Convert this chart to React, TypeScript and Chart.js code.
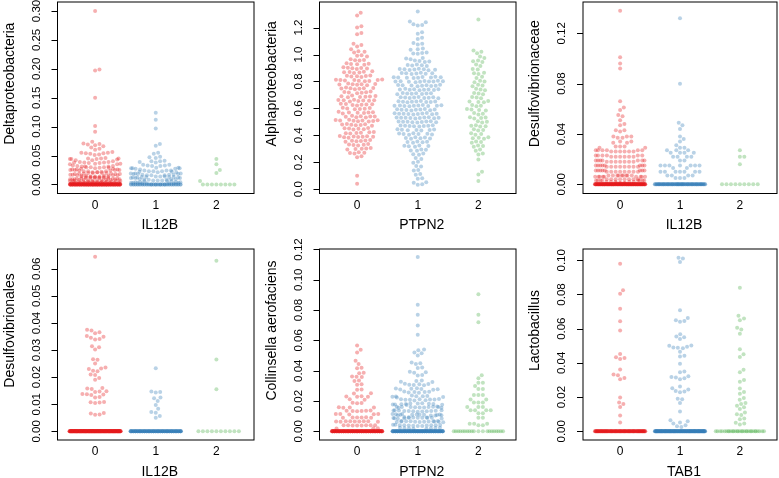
import React, { useEffect, useRef } from "react";
import { Chart, registerables } from "chart.js";

Chart.register(...registerables);

const CANVAS_W = 779;
const CANVAS_H = 478;
const FONT = '"Liberation Sans", Arial, Helvetica, sans-serif';

const groupLabels = ["0", "1", "2"];
const groupColors = ["rgba(228,26,28,0.35)", "rgba(55,126,184,0.35)", "rgba(77,175,74,0.35)"];

// ---------- Panel 1: Deltaproteobacteria by IL12B ----------
const deltaG0 = [0.300, 0.199, 0.197, 0.150, 0.101, 0.091,
  0.074, 0.071, 0.070, 0.069, 0.068, 0.066, 0.064, 0.062, 0.060,
  0.056, 0.055, 0.055, 0.054, 0.054, 0.053, 0.052, 0.051,
  0.046, 0.045, 0.045, 0.045, 0.044, 0.044, 0.044, 0.043, 0.042, 0.042,
  0.040, 0.039, 0.039, 0.038, 0.038, 0.038, 0.037, 0.037, 0.036, 0.036, 0.035, 0.035,
  0.033, 0.032, 0.032, 0.031, 0.031, 0.031, 0.030, 0.030, 0.030, 0.029, 0.029, 0.028,
  0.027, 0.027, 0.026, 0.026, 0.026, 0.025, 0.025, 0.025, 0.025, 0.024, 0.024, 0.023, 0.023, 0.023,
  0.022, 0.021, 0.021, 0.021, 0.020, 0.020, 0.020, 0.020, 0.019, 0.019, 0.019, 0.018, 0.018, 0.018, 0.017, 0.017,
  0.016, 0.016, 0.016, 0.015, 0.015, 0.015, 0.015, 0.014, 0.014, 0.014, 0.014, 0.013, 0.013, 0.013, 0.013, 0.012, 0.012, 0.012,
  0.011, 0.011, 0.011, 0.011, 0.010, 0.010, 0.010, 0.010, 0.010, 0.009, 0.009, 0.009, 0.009, 0.009, 0.008, 0.008, 0.008, 0.008, 0.007, 0.007, 0.007, 0.007,
  0.006, 0.006, 0.006, 0.006, 0.006, 0.005, 0.005, 0.005, 0.005, 0.005, 0.005, 0.005, 0.004, 0.004, 0.004, 0.004, 0.004, 0.004, 0.003, 0.003, 0.003, 0.003, 0.003, 0.003,
  0.002, 0.002, 0.002, 0.002, 0.002, 0.002, 0.002, 0.002, 0.002, 0.002, 0.002, 0.002,
  0.001, 0.001, 0.001, 0.001, 0.001, 0.001, 0.001, 0.001, 0.001, 0.001, 0.001, 0.001, 0.001, 0.001, 0.001, 0.001, 0.001, 0.001];
const deltaG0Zeros = 120;
const deltaG1 = [0.124, 0.112, 0.097, 0.070, 0.067, 0.055, 0.053, 0.048, 0.047, 0.046,
  0.041, 0.040, 0.040, 0.039, 0.038, 0.034, 0.034, 0.033, 0.033, 0.032, 0.032,
  0.029, 0.029, 0.028, 0.028, 0.028, 0.027, 0.027, 0.026,
  0.024, 0.024, 0.024, 0.023, 0.023, 0.023, 0.022, 0.022, 0.021, 0.021,
  0.019, 0.019, 0.019, 0.018, 0.018, 0.018, 0.017, 0.017, 0.017, 0.016, 0.016, 0.016,
  0.014, 0.014, 0.014, 0.013, 0.013, 0.013, 0.013, 0.012, 0.012, 0.012, 0.011, 0.011, 0.011,
  0.009, 0.009, 0.009, 0.008, 0.008, 0.008, 0.007, 0.007, 0.007, 0.006, 0.006, 0.006,
  0.004, 0.004, 0.004, 0.004, 0.003, 0.003, 0.003, 0.003, 0.002, 0.002, 0.002, 0.002];
const deltaG1Zeros = 50;
const deltaG2 = [0.044, 0.035, 0.025, 0.020, 0.006];
const deltaG2Zeros = 8;
const deltaTicks = [0, 0.05, 0.1, 0.15, 0.2, 0.25, 0.3];
const deltaTickLabels = ["0.00", "0.05", "0.10", "0.15", "0.20", "0.25", "0.30"];

// ---------- Panel 2: Alphaproteobacteria by PTPN2 ----------
const alphaG0 = [1.31, 1.29, 1.21, 1.20, 1.16, 1.15, 1.08, 1.07, 1.06, 1.04,
  1.025, 1.02, 1.015, 0.995, 0.99, 0.985, 0.965, 0.96, 0.958, 0.955,
  0.935, 0.932, 0.93, 0.927, 0.924, 0.905, 0.902, 0.90, 0.898, 0.896, 0.893,
  0.875, 0.872, 0.87, 0.868, 0.866, 0.863, 0.845, 0.842, 0.84, 0.838, 0.836, 0.833,
  0.815, 0.813, 0.811, 0.81, 0.81, 0.808, 0.806, 0.804, 0.802,
  0.785, 0.782, 0.78, 0.779, 0.777, 0.775, 0.772,
  0.755, 0.752, 0.75, 0.749, 0.747, 0.745, 0.742,
  0.725, 0.722, 0.72, 0.718, 0.716, 0.713,
  0.695, 0.692, 0.69, 0.689, 0.687, 0.685, 0.682,
  0.665, 0.663, 0.661, 0.66, 0.658, 0.656, 0.654, 0.652,
  0.635, 0.632, 0.63, 0.629, 0.627, 0.625, 0.622,
  0.605, 0.602, 0.60, 0.598, 0.596, 0.593,
  0.575, 0.572, 0.57, 0.569, 0.567, 0.565, 0.562,
  0.545, 0.542, 0.54, 0.539, 0.537, 0.535, 0.532,
  0.515, 0.513, 0.511, 0.51, 0.51, 0.508, 0.506, 0.504, 0.502,
  0.485, 0.482, 0.48, 0.479, 0.477, 0.475, 0.472,
  0.455, 0.452, 0.45, 0.448, 0.446, 0.443,
  0.425, 0.422, 0.42, 0.418, 0.416, 0.413,
  0.395, 0.393, 0.391, 0.39, 0.389, 0.387, 0.385, 0.382,
  0.365, 0.362, 0.36, 0.358, 0.356, 0.353,
  0.335, 0.332, 0.33, 0.328, 0.325,
  0.305, 0.302, 0.30, 0.298, 0.295,
  0.275, 0.271, 0.268, 0.265, 0.245, 0.238, 0.10, 0.04];
const alphaG1 = [1.32, 1.245, 1.24, 1.225, 1.22, 1.215, 1.165, 1.155, 1.125, 1.115,
  1.085, 1.08, 1.075, 1.045, 1.04, 1.035, 1.015, 1.012, 1.008, 1.005,
  0.975, 0.97, 0.965, 0.955, 0.952, 0.948, 0.945,
  0.925, 0.922, 0.92, 0.918, 0.915,
  0.895, 0.893, 0.891, 0.89, 0.889, 0.887, 0.885, 0.883,
  0.865, 0.863, 0.861, 0.86, 0.859, 0.857, 0.855,
  0.835, 0.833, 0.832, 0.831, 0.83, 0.829, 0.828, 0.827, 0.825,
  0.805, 0.803, 0.802, 0.801, 0.80, 0.80, 0.799, 0.798, 0.797, 0.795,
  0.775, 0.773, 0.772, 0.771, 0.77, 0.769, 0.768, 0.767, 0.765,
  0.745, 0.743, 0.742, 0.741, 0.74, 0.739, 0.738, 0.737, 0.735,
  0.715, 0.713, 0.712, 0.711, 0.71, 0.709, 0.707, 0.705,
  0.685, 0.683, 0.682, 0.681, 0.68, 0.679, 0.678, 0.677, 0.675,
  0.655, 0.653, 0.652, 0.651, 0.65, 0.649, 0.648, 0.647, 0.645,
  0.625, 0.623, 0.622, 0.621, 0.62, 0.62, 0.619, 0.618, 0.617, 0.615,
  0.595, 0.593, 0.592, 0.591, 0.59, 0.589, 0.588, 0.587, 0.585,
  0.565, 0.563, 0.562, 0.561, 0.56, 0.56, 0.559, 0.558, 0.557, 0.555,
  0.535, 0.533, 0.532, 0.531, 0.53, 0.53, 0.529, 0.528, 0.527, 0.525,
  0.505, 0.503, 0.502, 0.501, 0.50, 0.499, 0.498, 0.497, 0.495,
  0.475, 0.473, 0.472, 0.471, 0.47, 0.469, 0.467, 0.465,
  0.445, 0.443, 0.441, 0.44, 0.439, 0.437, 0.435,
  0.415, 0.413, 0.411, 0.41, 0.409, 0.407, 0.405,
  0.385, 0.383, 0.381, 0.379, 0.377, 0.375,
  0.355, 0.352, 0.35, 0.348, 0.345,
  0.325, 0.322, 0.32, 0.318, 0.315,
  0.295, 0.292, 0.288, 0.285, 0.265, 0.26, 0.255,
  0.232, 0.225, 0.203, 0.197,
  0.172, 0.168, 0.142, 0.138, 0.112, 0.108, 0.082, 0.078, 0.052, 0.048, 0.037, 0.033];
const alphaG2 = [1.26, 1.03, 1.02, 1.01, 0.985, 0.975, 0.955, 0.95, 0.945,
  0.925, 0.915, 0.892, 0.888, 0.865, 0.86, 0.855, 0.835, 0.825,
  0.805, 0.80, 0.795, 0.775, 0.77, 0.765, 0.745, 0.74, 0.735, 0.715, 0.71, 0.705,
  0.685, 0.68, 0.675, 0.655, 0.652, 0.648, 0.645, 0.625, 0.62, 0.615,
  0.595, 0.592, 0.588, 0.585, 0.565, 0.56, 0.555, 0.535, 0.532, 0.528, 0.525,
  0.505, 0.50, 0.495, 0.475, 0.472, 0.468, 0.465, 0.445, 0.44, 0.435,
  0.415, 0.41, 0.405, 0.385, 0.382, 0.378, 0.375, 0.355, 0.35, 0.345,
  0.325, 0.32, 0.315, 0.295, 0.285, 0.265, 0.258, 0.22, 0.13, 0.11, 0.06];
const alphaTicks = [0, 0.2, 0.4, 0.6, 0.8, 1.0, 1.2];
const alphaTickLabels = ["0.0", "0.2", "0.4", "0.6", "0.8", "1.0", "1.2"];

// ---------- Panel 3: Desulfovibrionaceae by IL12B ----------
const ceaeG0 = [0.138, 0.101, 0.096, 0.092, 0.066, 0.061, 0.059, 0.055, 0.054, 0.051, 0.048, 0.047,
  0.043, 0.043, 0.042, 0.038, 0.038, 0.038, 0.037, 0.037, 0.034, 0.034, 0.033, 0.033,
  0.030, 0.030, 0.030, 0.029, 0.029,
  0.027, 0.027, 0.027, 0.027, 0.027, 0.027, 0.026, 0.026, 0.026, 0.026, 0.026, 0.026,
  0.023, 0.023, 0.023, 0.023, 0.023, 0.023, 0.022, 0.022, 0.022, 0.022, 0.022, 0.022,
  0.019, 0.019, 0.019, 0.019, 0.019, 0.019, 0.019, 0.018, 0.018, 0.018, 0.018, 0.018, 0.018, 0.018,
  0.015, 0.015, 0.015, 0.015, 0.015, 0.015, 0.015, 0.015, 0.014, 0.014, 0.014, 0.014, 0.014, 0.014, 0.014, 0.014,
  0.011, 0.011, 0.011, 0.011, 0.011, 0.011, 0.011, 0.011, 0.010, 0.010, 0.010, 0.010, 0.010, 0.010, 0.010, 0.010,
  0.007, 0.007, 0.007, 0.007, 0.007, 0.007, 0.007, 0.007, 0.007, 0.006, 0.006, 0.006, 0.006, 0.006, 0.006, 0.006, 0.006, 0.006,
  0.004, 0.004, 0.004, 0.004, 0.004, 0.004, 0.004, 0.004, 0.003, 0.003, 0.003, 0.003, 0.003, 0.003, 0.003, 0.003,
  0.002, 0.002, 0.002, 0.002, 0.002, 0.001, 0.001, 0.001, 0.001, 0.001];
const ceaeG0Zeros = 157;
const ceaeG1 = [0.132, 0.080, 0.049, 0.047, 0.044, 0.038, 0.036, 0.034, 0.031, 0.029, 0.029,
  0.027, 0.027, 0.027, 0.025, 0.025, 0.025, 0.025, 0.022, 0.022, 0.022, 0.022, 0.019, 0.019,
  0.015, 0.015, 0.015, 0.015, 0.015, 0.015, 0.015, 0.013, 0.013,
  0.010, 0.010, 0.010, 0.010, 0.010, 0.010, 0.010, 0.007, 0.007, 0.007, 0.007, 0.005, 0.005, 0.005];
const ceaeG1Zeros = 93;
const ceaeG2 = [0.027, 0.022, 0.022, 0.016];
const ceaeG2Zeros = 9;
const ceaeTicks = [0, 0.04, 0.08, 0.12];
const ceaeTickLabels = ["0.00", "0.04", "0.08", "0.12"];

// ---------- Panel 4: Desulfovibrionales by IL12B ----------
const lesG0 = [0.0644, 0.0375, 0.0372, 0.0366, 0.0362, 0.0352, 0.0349, 0.0345, 0.0341, 0.0339,
  0.0314, 0.0310, 0.0302, 0.0266, 0.0264, 0.0250, 0.0236, 0.0232, 0.0230, 0.0224, 0.0222,
  0.0210, 0.0208, 0.0197, 0.0190, 0.0160, 0.0158, 0.0156, 0.0148, 0.0147, 0.0145,
  0.0138, 0.0137, 0.0136, 0.0134, 0.0127, 0.0125, 0.0108, 0.0107, 0.0106, 0.0105,
  0.0068, 0.0066, 0.0062, 0.0061];
const lesG0Zeros = 255;
const lesG1 = [0.0233, 0.0147, 0.0145, 0.0143, 0.0125, 0.0122, 0.0112, 0.0097, 0.0083, 0.0071, 0.0069, 0.0057, 0.0050];
const lesG1Zeros = 127;
const lesG2 = [0.063, 0.0265, 0.0155];
const lesG2Zeros = 10;
const lesTicks = [0, 0.01, 0.02, 0.03, 0.04, 0.05, 0.06];
const lesTickLabels = ["0.00", "0.01", "0.02", "0.03", "0.04", "0.05", "0.06"];

// ---------- Panel 5: Collinsella aerofaciens by PTPN2 ----------
const colG0 = [0.0567, 0.0538, 0.052, 0.0466, 0.0444, 0.0420, 0.0416, 0.0386, 0.0384,
  0.0362, 0.0360, 0.0358, 0.0335, 0.0332, 0.0310, 0.0308, 0.0276, 0.0274, 0.0251, 0.0249,
  0.0232, 0.0230, 0.0229, 0.0228, 0.0211, 0.0209, 0.0188, 0.0187, 0.0185,
  0.0159, 0.0158, 0.0157, 0.0156, 0.0137, 0.0136, 0.0136, 0.0135, 0.0134, 0.0133,
  0.0115, 0.0114, 0.0114, 0.0113, 0.0112, 0.0093, 0.0092, 0.0092, 0.0091, 0.0090, 0.0089,
  0.0067, 0.0066, 0.0066, 0.0066, 0.0065, 0.0065, 0.0065, 0.0064, 0.0063,
  0.0041, 0.0041, 0.0040, 0.0040, 0.0040, 0.0039, 0.0039, 0.0039, 0.0021, 0.0020, 0.0019];
const colG0Zeros = 151;
const colG1 = [0.115, 0.0835, 0.077, 0.0699, 0.0637, 0.054, 0.0535, 0.052, 0.0515, 0.050,
  0.0455, 0.045, 0.0445, 0.0422, 0.0418, 0.0394, 0.039, 0.0386, 0.0372, 0.0368,
  0.0335, 0.0332, 0.0328, 0.0325, 0.0314, 0.0312, 0.031, 0.0308, 0.0306, 0.0304,
  0.0285, 0.0283, 0.0281, 0.028, 0.0278, 0.0276, 0.0274, 0.0263, 0.0261, 0.026, 0.0259, 0.0257, 0.0255,
  0.0236, 0.0234, 0.0232, 0.0231, 0.023, 0.0228, 0.0226, 0.0224,
  0.0214, 0.0212, 0.0211, 0.021, 0.021, 0.0209, 0.0208, 0.0206, 0.0204,
  0.0186, 0.0184, 0.0183, 0.0182, 0.0181, 0.018, 0.0179, 0.0178, 0.0177, 0.0176, 0.0174,
  0.0164, 0.0163, 0.0162, 0.0161, 0.016, 0.016, 0.016, 0.0159, 0.0158, 0.0157, 0.0156, 0.0155,
  0.014, 0.0139, 0.0138, 0.0137, 0.0136, 0.0135, 0.0135, 0.0134, 0.0133, 0.0132, 0.0131, 0.013,
  0.0115, 0.0114, 0.0113, 0.0112, 0.0111, 0.011, 0.011, 0.011, 0.0109, 0.0108, 0.0107, 0.0106, 0.0105, 0.0104,
  0.0094, 0.0093, 0.0092, 0.0091, 0.009, 0.009, 0.009, 0.009, 0.0089, 0.0088, 0.0087, 0.0086, 0.0085, 0.0084,
  0.0069, 0.0068, 0.0067, 0.0066, 0.0066, 0.0065, 0.0065, 0.0065, 0.0064, 0.0064, 0.0063, 0.0062, 0.0061, 0.006,
  0.0044, 0.0043, 0.0042, 0.0041, 0.004, 0.004, 0.004, 0.0039, 0.0038, 0.0037, 0.0036, 0.0035,
  0.0024, 0.0023, 0.0022, 0.0021, 0.002, 0.0019, 0.0018, 0.0017];
const colG1Zeros = 140;
const colG2 = [0.0905, 0.077, 0.072, 0.037, 0.035, 0.032, 0.032, 0.030, 0.028, 0.028,
  0.024, 0.024, 0.024, 0.021, 0.021, 0.019, 0.019, 0.019, 0.016, 0.016, 0.016,
  0.014, 0.014, 0.014, 0.014, 0.012, 0.012, 0.009, 0.009, 0.005, 0.005, 0.005, 0.004, 0.004];
const colG2Zeros = 20;
const colTicks = [0, 0.02, 0.04, 0.06, 0.08, 0.1, 0.12];
const colTickLabels = ["0.00", "0.02", "0.04", "0.06", "0.08", "0.10", "0.12"];

// ---------- Panel 6: Lactobacillus by TAB1 ----------
const lacG0 = [0.098, 0.0825, 0.0805, 0.0717, 0.0643, 0.059, 0.0452, 0.0433, 0.0428, 0.0423,
  0.0362, 0.0332, 0.0328, 0.0312, 0.0305, 0.0197, 0.0168, 0.0160, 0.0142, 0.0093, 0.0052];
const lacG0Zeros = 130;
const lacG1 = [0.1015, 0.1010, 0.0990, 0.0708, 0.0662, 0.0650, 0.0645, 0.0640, 0.0568, 0.0555,
  0.0550, 0.0540, 0.0502, 0.0500, 0.0495, 0.0490, 0.0488, 0.0485, 0.0465, 0.0442, 0.0438,
  0.0395, 0.0350, 0.0345, 0.0322, 0.0318, 0.0315, 0.0310, 0.0305, 0.0262, 0.0252, 0.0245,
  0.0235, 0.0232, 0.0228, 0.0190, 0.0188, 0.0165, 0.0115, 0.0065, 0.0058, 0.0052,
  0.0045, 0.0035, 0.0030, 0.0025];
const lacG1Zeros = 180;
const lacG2 = [0.084, 0.0675, 0.066, 0.065, 0.0605, 0.0595, 0.057, 0.048, 0.045, 0.0435,
  0.036, 0.0345, 0.030, 0.029, 0.025, 0.023, 0.022, 0.0195, 0.0185, 0.0165, 0.016, 0.015,
  0.014, 0.013, 0.011, 0.010, 0.0095, 0.0075, 0.007, 0.005, 0.0045, 0.004];
const lacG2Zeros = 30;
const lacTicks = [0, 0.02, 0.04, 0.06, 0.08, 0.1];
const lacTickLabels = ["0.00", "0.02", "0.04", "0.06", "0.08", "0.10"];

// ---------- helpers ----------
function withZeros(vals: number[], zeros: number): number[] {
  const out = vals.slice();
  for (let i = 0; i < zeros; i++) out.push(0);
  return out;
}

type PanelDef = {
  yTitle: string;
  xTitle: string;
  groups: number[][];
  yMin: number;
  yMax: number;
  ticks: number[];
  tickLabels: string[];
  box: [number, number, number, number];
};

const X_MIN = -0.62;
const X_MAX = 2.62;
const DOT = 4.5;

const panels: PanelDef[] = [
  { yTitle: "Deltaproteobacteria", xTitle: "IL12B",
    groups: [withZeros(deltaG0, deltaG0Zeros), withZeros(deltaG1, deltaG1Zeros), withZeros(deltaG2, deltaG2Zeros)],
    yMin: -0.0156, yMax: 0.3156, ticks: deltaTicks, tickLabels: deltaTickLabels, box: [57.5, 2, 254, 193.5] },
  { yTitle: "Alphaproteobacteria", xTitle: "PTPN2",
    groups: [alphaG0, alphaG1, alphaG2],
    yMin: -0.032, yMax: 1.39, ticks: alphaTicks, tickLabels: alphaTickLabels, box: [319.5, 2, 516, 193.5] },
  { yTitle: "Desulfovibrionaceae", xTitle: "IL12B",
    groups: [withZeros(ceaeG0, ceaeG0Zeros), withZeros(ceaeG1, ceaeG1Zeros), withZeros(ceaeG2, ceaeG2Zeros)],
    yMin: -0.0073, yMax: 0.1449, ticks: ceaeTicks, tickLabels: ceaeTickLabels, box: [583, 2, 778.5, 193.5] },
  { yTitle: "Desulfovibrionales", xTitle: "IL12B",
    groups: [withZeros(lesG0, lesG0Zeros), withZeros(lesG1, lesG1Zeros), withZeros(lesG2, lesG2Zeros)],
    yMin: -0.0032, yMax: 0.0673, ticks: lesTicks, tickLabels: lesTickLabels, box: [57.5, 249, 254, 440] },
  { yTitle: "Collinsella aerofaciens", xTitle: "PTPN2",
    groups: [withZeros(colG0, colG0Zeros), withZeros(colG1, colG1Zeros), withZeros(colG2, colG2Zeros)],
    yMin: -0.0057, yMax: 0.1203, ticks: colTicks, tickLabels: colTickLabels, box: [319.5, 249, 516, 440] },
  { yTitle: "Lactobacillus", xTitle: "TAB1",
    groups: [withZeros(lacG0, lacG0Zeros), withZeros(lacG1, lacG1Zeros), withZeros(lacG2, lacG2Zeros)],
    yMin: -0.0051, yMax: 0.1066, ticks: lacTicks, tickLabels: lacTickLabels, box: [583, 249, 778.5, 440] },
];

// beeswarm "swarm" layout (ascending priority), offsets in pixels
function swarmOffsets(yPx: number[], d: number): number[] {
  const order = yPx.map((_, i) => i).sort((a, b) => yPx[a] - yPx[b]);
  const px: number[] = [];
  const py: number[] = [];
  const res: number[] = new Array(yPx.length).fill(0);
  const d2 = d * d;
  for (const i of order) {
    const y = yPx[i];
    const near: number[] = [];
    const cands: number[] = [0];
    for (let j = 0; j < py.length; j++) {
      const dy = y - py[j];
      if (Math.abs(dy) < d) {
        near.push(j);
        const dx = Math.sqrt(d2 - dy * dy);
        cands.push(px[j] + dx, px[j] - dx);
      }
    }
    cands.sort((a, b) => Math.abs(a) - Math.abs(b));
    let best = 0;
    for (const c of cands) {
      let ok = true;
      for (const j of near) {
        const dx = c - px[j];
        const dy = y - py[j];
        if (dx * dx + dy * dy < d2 - 1e-6) { ok = false; break; }
      }
      if (ok) { best = c; break; }
    }
    px.push(best);
    py.push(y);
    res[i] = best;
  }
  return res;
}

function PanelChart({ panel }: { panel: PanelDef }) {
  const ref = useRef<HTMLCanvasElement | null>(null);
  useEffect(() => {
    const canvas = ref.current;
    if (!canvas) return;
    const [L, T, R, B] = panel.box;
    const pxX = (R - L) / (X_MAX - X_MIN);
    const pxY = (B - T) / (panel.yMax - panel.yMin);
    const corral = pxX - 2 * DOT;
    const datasets = panel.groups.map((vals, gi) => {
      const offs = swarmOffsets(vals.map((v) => v * pxY), DOT);
      return {
        data: vals.map((v, k) => {
          let o = offs[k];
          o = ((((o + corral / 2) % corral) + corral) % corral) - corral / 2;
          return { x: gi + o / pxX, y: v };
        }),
        pointBackgroundColor: groupColors[gi],
        pointBorderWidth: 0,
        pointRadius: 2.0,
        pointHoverRadius: 2.0,
        showLine: false,
      };
    });

    const frame = {
      id: "frame",
      afterDraw(chart: any) {
        const ctx = chart.ctx as CanvasRenderingContext2D;
        const a = chart.chartArea;
        const ys = chart.scales.y;
        const xs = chart.scales.x;
        ctx.save();
        ctx.strokeStyle = "#000";
        ctx.lineWidth = 1;
        ctx.strokeRect(a.left, a.top, a.right - a.left, a.bottom - a.top);
        ctx.beginPath();
        panel.ticks.forEach((v) => {
          const y = Math.round(ys.getPixelForValue(v)) + 0.5;
          ctx.moveTo(a.left, y);
          ctx.lineTo(a.left - 6, y);
        });
        ctx.stroke();
        ctx.fillStyle = "#000";
        ctx.textAlign = "center";
        ctx.textBaseline = "middle";
        ctx.font = `11.5px ${FONT}`;
        panel.ticks.forEach((v, i) => {
          const y = ys.getPixelForValue(v);
          ctx.save();
          ctx.translate(a.left - 21, y);
          ctx.rotate(-Math.PI / 2);
          ctx.fillText(panel.tickLabels[i], 0, 0);
          ctx.restore();
        });
        ctx.font = `12px ${FONT}`;
        groupLabels.forEach((lab, i) => {
          ctx.fillText(lab, xs.getPixelForValue(i), a.bottom + 12);
        });
        ctx.font = `14px ${FONT}`;
        ctx.fillText(panel.xTitle, (a.left + a.right) / 2 + 4, a.bottom + 32);
        ctx.save();
        ctx.translate(a.left - 47.5, (a.top + a.bottom) / 2 - 14);
        ctx.rotate(-Math.PI / 2);
        ctx.fillText(panel.yTitle, 0, 0);
        ctx.restore();
        ctx.restore();
      },
    };

    const chart = new Chart(canvas, {
      type: "scatter",
      data: { datasets: datasets as any },
      options: {
        responsive: false,
        animation: false,
        events: [],
        layout: { padding: { left: L, top: T, right: CANVAS_W - R, bottom: CANVAS_H - B } },
        plugins: { legend: { display: false }, tooltip: { enabled: false } },
        scales: {
          x: { type: "linear", min: X_MIN, max: X_MAX, display: false },
          y: { type: "linear", min: panel.yMin, max: panel.yMax, display: false },
        },
      },
      plugins: [frame],
    });
    return () => chart.destroy();
  }, [panel]);
  return (
    <canvas
      ref={ref}
      width={CANVAS_W}
      height={CANVAS_H}
      style={{ position: "absolute", left: 0, top: 0, width: CANVAS_W, height: CANVAS_H }}
    />
  );
}

export default function App() {
  return (
    <div style={{ position: "fixed", left: 0, top: 0, width: CANVAS_W, height: CANVAS_H, background: "#fff", overflow: "hidden" }}>
      {panels.map((p, i) => (
        <PanelChart key={i} panel={p} />
      ))}
    </div>
  );
}
